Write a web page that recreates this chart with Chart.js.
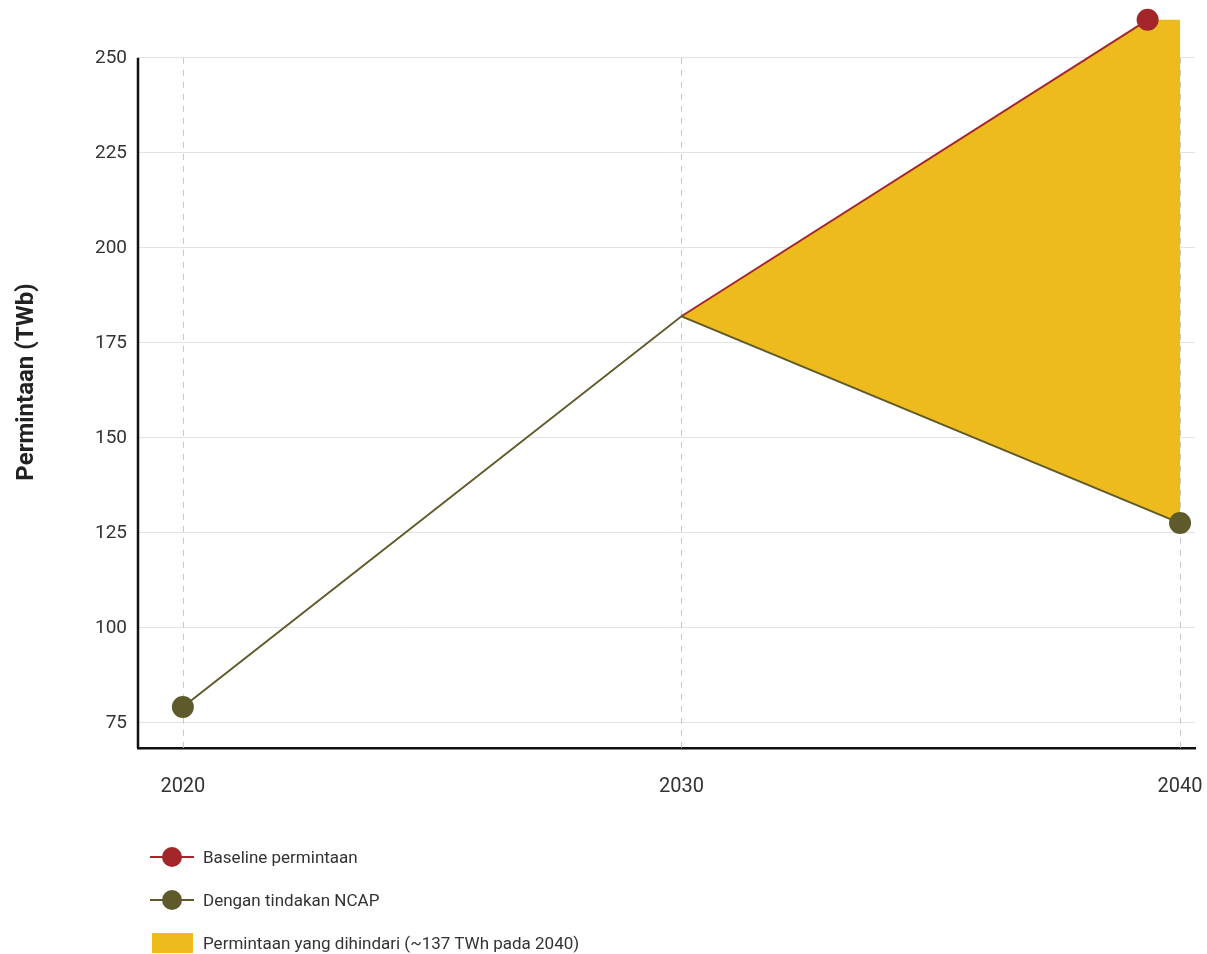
<!DOCTYPE html>
<html>
<head>
<meta charset="utf-8">
<script src="https://cdn.jsdelivr.net/npm/chart.js@4"></script>
<style>
  body { margin: 0; background: #fff; font-family: Roboto, sans-serif; }
  #wrap { position: relative; width: 1207px; height: 954px; }
  .legend { position: absolute; left: 150px; top: 843px; color: #333; font-size: 17px; }
  .row { height: 43px; display: flex; align-items: flex-start; }
  .mk { position: relative; width: 44px; height: 28px; margin-right: 9px; }
  .mk .ln { position: absolute; left: 0; right: 0; top: 13px; height: 2px; }
  .mk .dot { position: absolute; left: 12px; top: 4px; width: 20px; height: 20px; border-radius: 50%; }
  .mk .box { position: absolute; left: 2px; top: 4px; width: 41px; height: 20px; }
  .row span { line-height: 28px; }
</style>
</head>
<body>
<div id="wrap">
  <canvas id="chart" width="1207" height="954"></canvas>
  <div class="legend">
    <div class="row"><div class="mk"><div class="ln" style="background:#a3262b"></div><div class="dot" style="background:#a3262b"></div></div><span>Baseline permintaan</span></div>
    <div class="row"><div class="mk"><div class="ln" style="background:#5f5a2b"></div><div class="dot" style="background:#5f5a2b"></div></div><span>Dengan tindakan NCAP</span></div>
    <div class="row"><div class="mk"><div class="box" style="background:#eebb1f"></div></div><span>Permintaan yang dihindari (~137 TWh pada 2040)</span></div>
  </div>
</div>
<script>
// values
const years = [2020, 2030, 2040];
const yTicks = [75, 100, 125, 150, 175, 200, 225, 250];
const baselineX = [2030, 2039.35];
const baselineY = [182, 260];
const ncapX = [2020, 2030, 2040];
const ncapY = [79.2, 182, 127.6];
const avoidedX = [2030, 2039.35, 2040, 2040];
const avoidedY = [182, 260, 260, 127.6];

const RED = '#a3262b';
const OLIVE = '#5f5a2b';
const YELLOW = '#eebb1f';

const toPts = (xs, ys) => xs.map((x, i) => ({ x: x, y: ys[i] }));

// drop the label overflow padding chart.js adds, layout.padding decides the edges
const noPad = s => {
  s.paddingLeft = s.paddingRight = s.paddingTop = s.paddingBottom = 0;
  if (s._margins) { s._margins.left = s._margins.right = s._margins.top = s._margins.bottom = 0; }
};

const ctx = document.getElementById('chart').getContext('2d');
new Chart(ctx, {
  type: 'line',
  data: {
    datasets: [
      {
        label: 'Permintaan yang dihindari',
        data: toPts(avoidedX, avoidedY),
        fill: 'shape',
        backgroundColor: YELLOW,
        borderWidth: 0,
        borderColor: 'rgba(0,0,0,0)',
        pointRadius: 0,
        clip: false,
        order: 3
      },
      {
        label: 'Baseline permintaan',
        data: toPts(baselineX, baselineY),
        borderColor: RED,
        backgroundColor: RED,
        borderWidth: 2,
        pointRadius: [0, 10],
        pointHoverRadius: [0, 10],
        fill: false,
        clip: false,
        order: 2
      },
      {
        label: 'Dengan tindakan NCAP',
        data: toPts(ncapX, ncapY),
        borderColor: OLIVE,
        backgroundColor: OLIVE,
        borderWidth: 2,
        pointRadius: [10, 0, 10],
        pointHoverRadius: [10, 0, 10],
        fill: false,
        clip: false,
        order: 1
      }
    ]
  },
  options: {
    responsive: false,
    animation: false,
    layout: { padding: { top: 16, right: 7, left: 0, bottom: 0 } },
    plugins: { legend: { display: false }, tooltip: { enabled: false } },
    scales: {
      x: {
        type: 'linear',
        min: 2019.1,
        max: 2040.3,
        afterBuildTicks: s => { s.ticks = years.map(v => ({ value: v })); },
        afterFit: s => { s.height = 206; noPad(s); },
        border: { display: true, color: '#111', width: 2.5 },
        grid: { display: false },
        ticks: { color: '#333', padding: 19, font: { family: 'Roboto', size: 20 }, callback: v => String(v) }
      },
      y: {
        min: 68.42,
        max: 261,
        afterBuildTicks: s => { s.ticks = yTicks.map(v => ({ value: v })); },
        afterFit: s => { s.width = 138; noPad(s); },
        border: { display: false },
        grid: { color: '#e3e3e3', lineWidth: 1, drawTicks: false },
        ticks: { color: '#333', padding: 11, font: { family: 'Roboto', size: 19 } },
        title: {
          display: true,
          text: 'Permintaan (TWb)',
          color: '#222',
          font: { family: 'Roboto', size: 24, weight: 'bold' },
          padding: { top: 13, bottom: 0 }
        }
      }
    }
  },
  plugins: [{
    id: 'axesAndDashes',
    beforeDatasetsDraw(chart) {
      const { ctx, chartArea, scales } = chart;
      const top = scales.y.getPixelForValue(yTicks[yTicks.length - 1]);
      ctx.save();
      ctx.strokeStyle = '#c8c8c8';
      ctx.lineWidth = 1;
      ctx.setLineDash([6, 6]);
      years.forEach(v => {
        const px = Math.round(scales.x.getPixelForValue(v)) + 0.5;
        ctx.beginPath();
        ctx.moveTo(px, top);
        ctx.lineTo(px, chartArea.bottom);
        ctx.stroke();
      });
      ctx.setLineDash([]);
      ctx.strokeStyle = '#111';
      ctx.lineWidth = 2.5;
      ctx.beginPath();
      ctx.moveTo(chartArea.left, top);
      ctx.lineTo(chartArea.left, chartArea.bottom);
      ctx.stroke();
      ctx.restore();
    }
  }]
});
</script>
</body>
</html>
